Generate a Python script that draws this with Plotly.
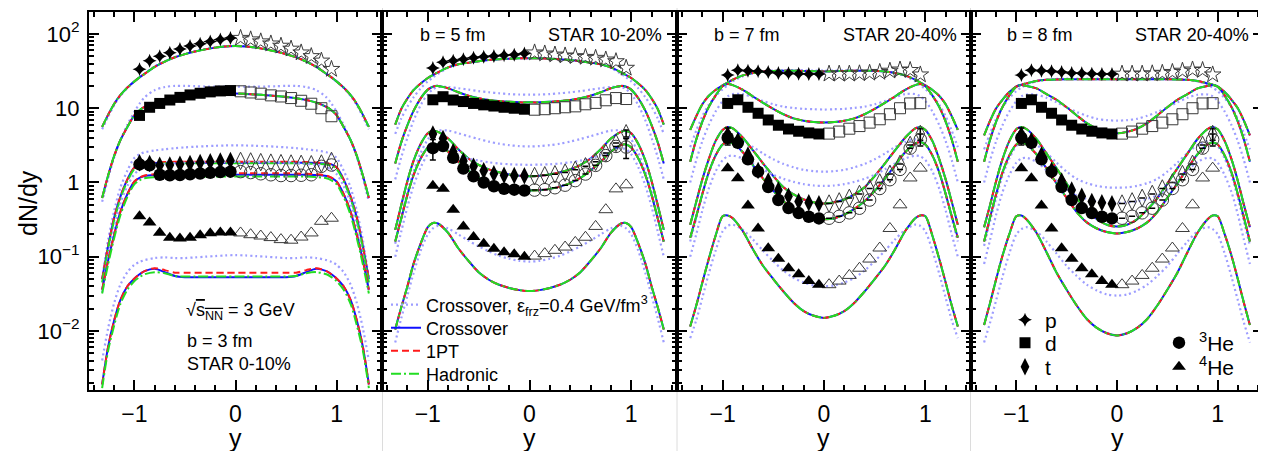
import plotly.graph_objects as go

FONT = "Liberation Sans, Arial, Helvetica, sans-serif"

# ---------------- rapidity grids ----------------
Y_CURVE = [-1.32, -1.26, -1.2, -1.14, -1.07, -1.0, -0.95, -0.9, -0.8, -0.7, -0.6, -0.5, -0.4, -0.3, -0.2, -0.1,
           0.0, 0.1, 0.2, 0.3, 0.4, 0.5, 0.6, 0.7, 0.8, 0.9, 0.95, 1.0, 1.07, 1.14, 1.2, 1.26, 1.32]
Y_NEG = [-0.95, -0.85, -0.75, -0.65, -0.55, -0.45, -0.35, -0.25, -0.15, -0.05]
Y_POS = [0.05, 0.15, 0.25, 0.35, 0.45, 0.55, 0.65, 0.75, 0.85, 0.95]

# ---------------- model curves, panel 1 (b = 3 fm) ----------------
P1_P = [5.6, 8.2, 11.5, 15, 19, 23, 26, 29, 36, 42.5, 48.5, 53.5, 58, 62, 65.5, 68, 69, 68, 65.5, 62, 58, 53.5, 48.5, 42.5, 36, 29, 26, 23, 19, 15, 11.5, 8.2, 5.6]
P1_P_FRZ = [5.2, 7.7, 11, 14.6, 18.8, 23, 26, 29.2, 36.5, 43, 49, 54, 58.5, 62.5, 66, 68.5, 69.5, 68.5, 66, 62.5, 58.5, 54, 49, 43, 36.5, 29.2, 26, 23, 18.8, 14.6, 11, 7.7, 5.2]
P1_D = [0.62, 1.25, 2.3, 3.7, 5.6, 8.1, 9.4, 10.4, 11.9, 12.9, 13.6, 14.2, 14.6, 15.0, 15.3, 15.6, 15.8, 15.6, 15.3, 15.0, 14.6, 14.2, 13.6, 12.9, 11.9, 10.4, 9.4, 8.1, 5.6, 3.7, 2.3, 1.25, 0.62]
P1_D_FRZ = [0.55, 1.15, 2.2, 3.7, 6.0, 9.0, 11.5, 14.0, 17.5, 19.3, 20, 20, 19.8, 19.6, 19.5, 19.5, 19.5, 19.5, 19.5, 19.6, 19.8, 20, 20, 19.3, 17.5, 14.0, 11.5, 9.0, 6.0, 3.7, 2.2, 1.15, 0.55]
P1_T = [0.05, 0.14, 0.34, 0.64, 1.1, 1.6, 1.75, 1.8, 1.83, 1.84, 1.85, 1.85, 1.85, 1.85, 1.85, 1.85, 1.85, 1.85, 1.85, 1.85, 1.85, 1.85, 1.85, 1.84, 1.83, 1.8, 1.75, 1.6, 1.1, 0.64, 0.34, 0.14, 0.05]
P1_T_1PT = [0.05, 0.14, 0.34, 0.64, 1.1, 1.6, 1.76, 1.82, 1.86, 1.88, 1.9, 1.9, 1.9, 1.9, 1.9, 1.9, 1.9, 1.9, 1.9, 1.9, 1.9, 1.9, 1.9, 1.88, 1.86, 1.82, 1.76, 1.6, 1.1, 0.64, 0.34, 0.14, 0.05]
P1_T_HAD = [0.045, 0.13, 0.31, 0.6, 1.04, 1.52, 1.68, 1.74, 1.78, 1.8, 1.81, 1.82, 1.82, 1.82, 1.82, 1.82, 1.82, 1.82, 1.82, 1.82, 1.82, 1.82, 1.81, 1.8, 1.78, 1.74, 1.68, 1.52, 1.04, 0.6, 0.31, 0.13, 0.045]
P1_T_FRZ = [0.05, 0.17, 0.42, 0.85, 1.45, 2.15, 2.4, 2.55, 2.7, 2.8, 2.9, 2.97, 3.03, 3.08, 3.12, 3.15, 3.16, 3.15, 3.12, 3.08, 3.03, 2.97, 2.9, 2.8, 2.7, 2.55, 2.4, 2.15, 1.45, 0.85, 0.42, 0.17, 0.05]
P1_HE3 = [0.036, 0.09, 0.2, 0.4, 0.7, 1.03, 1.15, 1.22, 1.26, 1.27, 1.27, 1.27, 1.27, 1.27, 1.27, 1.27, 1.27, 1.27, 1.27, 1.27, 1.27, 1.27, 1.27, 1.27, 1.26, 1.22, 1.15, 1.03, 0.7, 0.4, 0.2, 0.09, 0.036]
P1_HE3_1PT = [0.036, 0.09, 0.2, 0.4, 0.7, 1.03, 1.16, 1.24, 1.29, 1.31, 1.32, 1.33, 1.33, 1.33, 1.33, 1.33, 1.33, 1.33, 1.33, 1.33, 1.33, 1.33, 1.32, 1.31, 1.29, 1.24, 1.16, 1.03, 0.7, 0.4, 0.2, 0.09, 0.036]
P1_HE3_HAD = [0.032, 0.08, 0.18, 0.36, 0.64, 0.95, 1.07, 1.14, 1.18, 1.2, 1.2, 1.2, 1.2, 1.2, 1.2, 1.2, 1.2, 1.2, 1.2, 1.2, 1.2, 1.2, 1.2, 1.2, 1.18, 1.14, 1.07, 0.95, 0.64, 0.36, 0.18, 0.08, 0.032]
P1_HE3_FRZ = [0.033, 0.1, 0.25, 0.52, 0.9, 1.3, 1.48, 1.6, 1.72, 1.78, 1.82, 1.85, 1.87, 1.88, 1.89, 1.9, 1.9, 1.9, 1.89, 1.88, 1.87, 1.85, 1.82, 1.78, 1.72, 1.6, 1.48, 1.3, 0.9, 0.52, 0.25, 0.1, 0.033]
P1_HE4 = [0.0019, 0.0062, 0.014, 0.026, 0.040, 0.051, 0.058, 0.064, 0.069, 0.062, 0.055, 0.053, 0.053, 0.053, 0.053, 0.053, 0.053, 0.053, 0.053, 0.053, 0.053, 0.053, 0.055, 0.062, 0.069, 0.064, 0.058, 0.051, 0.040, 0.026, 0.014, 0.0062, 0.0019]
P1_HE4_1PT = [0.0019, 0.0062, 0.014, 0.026, 0.040, 0.051, 0.058, 0.064, 0.070, 0.066, 0.061, 0.061, 0.061, 0.061, 0.061, 0.061, 0.061, 0.061, 0.061, 0.061, 0.061, 0.061, 0.061, 0.066, 0.070, 0.064, 0.058, 0.051, 0.040, 0.026, 0.014, 0.0062, 0.0019]
P1_HE4_HAD = [0.0017, 0.0055, 0.012, 0.023, 0.036, 0.047, 0.053, 0.058, 0.062, 0.06, 0.055, 0.054, 0.054, 0.054, 0.054, 0.054, 0.054, 0.054, 0.054, 0.054, 0.054, 0.054, 0.055, 0.06, 0.062, 0.058, 0.053, 0.047, 0.036, 0.023, 0.012, 0.0055, 0.0017]
P1_HE4_FRZ = [0.004, 0.011, 0.024, 0.042, 0.062, 0.078, 0.085, 0.09, 0.096, 0.098, 0.096, 0.096, 0.098, 0.1, 0.102, 0.104, 0.105, 0.104, 0.102, 0.1, 0.098, 0.096, 0.096, 0.098, 0.096, 0.09, 0.085, 0.078, 0.062, 0.042, 0.024, 0.011, 0.004]

# ---------------- panel 2 (b = 5 fm) ----------------
P2_P = [6.0, 9.8, 13.5, 17.5, 21.5, 25.5, 28, 30.5, 35.5, 39, 41, 43, 44.7, 45.8, 46.5, 47, 47, 47, 46.5, 45.8, 44.7, 43, 41, 39, 35.5, 30.5, 28, 25.5, 21.5, 17.5, 13.5, 9.8, 6.0]
P2_P_FRZ = [4.5, 7.3, 10.5, 14, 18.5, 23, 26, 29, 35, 39, 41.5, 43.5, 45, 46, 46.8, 47.2, 47.3, 47.2, 46.8, 46, 45, 43.5, 41.5, 39, 35, 29, 26, 23, 18.5, 14, 10.5, 7.3, 4.5]
P2_D = [1.8, 3.5, 5.9, 9.2, 13.6, 17.8, 19.5, 20, 18.6, 16.4, 14.7, 13.6, 12.9, 12.5, 12.2, 12.0, 12.0, 12.0, 12.2, 12.5, 12.9, 13.6, 14.7, 16.4, 18.6, 20, 19.5, 17.8, 13.6, 9.2, 5.9, 3.5, 1.8]
P2_D_FRZ = [1.1, 2.2, 4.0, 6.8, 11.0, 15.5, 18, 19.3, 19.3, 18.6, 17.8, 17.0, 16.4, 15.9, 15.5, 15.3, 15.2, 15.3, 15.5, 15.9, 16.4, 17.0, 17.8, 18.6, 19.3, 19.3, 18, 15.5, 11.0, 6.8, 4.0, 2.2, 1.1]
P2_T = [0.23, 0.5, 1.05, 1.95, 3.3, 4.6, 4.95, 4.8, 3.9, 2.8, 2.1, 1.72, 1.5, 1.37, 1.28, 1.23, 1.21, 1.23, 1.28, 1.37, 1.5, 1.72, 2.1, 2.8, 3.9, 4.8, 4.95, 4.6, 3.3, 1.95, 1.05, 0.5, 0.23]
P2_T_FRZ = [0.15, 0.35, 0.75, 1.4, 2.5, 3.8, 4.6, 5.0, 5.0, 4.6, 4.2, 3.85, 3.55, 3.33, 3.18, 3.09, 3.06, 3.09, 3.18, 3.33, 3.55, 3.85, 4.2, 4.6, 5.0, 5.0, 4.6, 3.8, 2.5, 1.4, 0.75, 0.35, 0.15]
P2_HE3 = [0.16, 0.33, 0.68, 1.25, 2.1, 2.95, 3.25, 3.2, 2.6, 1.9, 1.45, 1.15, 0.98, 0.88, 0.82, 0.79, 0.78, 0.79, 0.82, 0.88, 0.98, 1.15, 1.45, 1.9, 2.6, 3.2, 3.25, 2.95, 2.1, 1.25, 0.68, 0.33, 0.16]
P2_HE3_FRZ = [0.1, 0.22, 0.47, 0.9, 1.6, 2.4, 2.8, 2.9, 2.7, 2.35, 2.1, 1.97, 1.87, 1.8, 1.76, 1.74, 1.73, 1.74, 1.76, 1.8, 1.87, 1.97, 2.1, 2.35, 2.7, 2.9, 2.8, 2.4, 1.6, 0.9, 0.47, 0.22, 0.1]
P2_HE4 = [0.0105, 0.021, 0.04, 0.08, 0.15, 0.25, 0.285, 0.28, 0.21, 0.13, 0.088, 0.062, 0.049, 0.042, 0.038, 0.0355, 0.0345, 0.0355, 0.038, 0.042, 0.049, 0.062, 0.088, 0.13, 0.21, 0.28, 0.285, 0.25, 0.15, 0.08, 0.04, 0.021, 0.0105]
P2_HE4_FRZ = [0.007, 0.015, 0.03, 0.06, 0.12, 0.2, 0.24, 0.26, 0.24, 0.2, 0.165, 0.138, 0.118, 0.103, 0.094, 0.088, 0.086, 0.088, 0.094, 0.103, 0.118, 0.138, 0.165, 0.2, 0.24, 0.26, 0.24, 0.2, 0.12, 0.06, 0.03, 0.015, 0.007]

# ---------------- panel 3 (b = 7 fm) ----------------
P3_P = [5.1, 7.8, 11.3, 14.5, 17.6, 20.3, 22.2, 24.2, 27.7, 29.8, 31.3, 31.8, 32, 32, 31.8, 31.5, 31.3, 31.5, 31.8, 32, 32, 31.8, 31.3, 29.8, 27.7, 24.2, 22.2, 20.3, 17.6, 14.5, 11.3, 7.8, 5.1]
P3_P_FRZ = [3.0, 5.0, 7.8, 11, 14.5, 18, 20.5, 23, 27, 29.8, 31.5, 32.2, 32.5, 32.5, 32.3, 32.1, 32, 32.1, 32.3, 32.5, 32.5, 32.2, 31.5, 29.8, 27, 23, 20.5, 18, 14.5, 11, 7.8, 5.0, 3.0]
P3_D = [1.9, 3.8, 6.6, 10.2, 14.8, 19.8, 21.2, 20.5, 17.7, 14.4, 11.8, 9.8, 8.3, 7.3, 6.8, 6.5, 6.4, 6.5, 6.8, 7.3, 8.3, 9.8, 11.8, 14.4, 17.7, 20.5, 21.2, 19.8, 14.8, 10.2, 6.6, 3.8, 1.9]
P3_D_FRZ = [1.0, 2.0, 3.6, 5.8, 9.0, 12.5, 14.5, 15.5, 15.5, 14, 12.5, 11.3, 10.5, 10.1, 9.8, 9.7, 9.6, 9.7, 9.8, 10.1, 10.5, 11.3, 12.5, 14, 15.5, 15.5, 14.5, 12.5, 9.0, 5.8, 3.6, 2.0, 1.0]
P3_T = [0.27, 0.55, 1.1, 2.0, 3.6, 5.1, 5.6, 5.35, 4.0, 2.7, 1.8, 1.22, 0.86, 0.69, 0.59, 0.54, 0.52, 0.54, 0.59, 0.69, 0.86, 1.22, 1.8, 2.7, 4.0, 5.35, 5.6, 5.1, 3.6, 2.0, 1.1, 0.55, 0.27]
P3_T_FRZ = [0.16, 0.33, 0.7, 1.3, 2.3, 3.3, 3.7, 3.8, 3.5, 3.0, 2.45, 2.05, 1.78, 1.6, 1.48, 1.42, 1.4, 1.42, 1.48, 1.6, 1.78, 2.05, 2.45, 3.0, 3.5, 3.8, 3.7, 3.3, 2.3, 1.3, 0.7, 0.33, 0.16]
P3_HE3 = [0.18, 0.35, 0.7, 1.33, 2.3, 3.25, 3.5, 3.35, 2.55, 1.7, 1.12, 0.77, 0.56, 0.44, 0.37, 0.33, 0.32, 0.33, 0.37, 0.44, 0.56, 0.77, 1.12, 1.7, 2.55, 3.35, 3.5, 3.25, 2.3, 1.33, 0.7, 0.35, 0.18]
P3_HE3_FRZ = [0.1, 0.2, 0.42, 0.8, 1.4, 2.0, 2.25, 2.3, 2.1, 1.8, 1.5, 1.27, 1.12, 1.02, 0.95, 0.91, 0.9, 0.91, 0.95, 1.02, 1.12, 1.27, 1.5, 1.8, 2.1, 2.3, 2.25, 2.0, 1.4, 0.8, 0.42, 0.2, 0.1]
P3_HE4 = [0.0115, 0.022, 0.045, 0.09, 0.19, 0.35, 0.36, 0.33, 0.22, 0.125, 0.075, 0.05, 0.034, 0.024, 0.0185, 0.016, 0.015, 0.016, 0.0185, 0.024, 0.034, 0.05, 0.075, 0.125, 0.22, 0.33, 0.36, 0.35, 0.19, 0.09, 0.045, 0.022, 0.0115]
P3_HE4_FRZ = [0.008, 0.014, 0.028, 0.057, 0.12, 0.22, 0.26, 0.27, 0.23, 0.17, 0.12, 0.087, 0.065, 0.052, 0.045, 0.041, 0.04, 0.041, 0.045, 0.052, 0.065, 0.087, 0.12, 0.17, 0.23, 0.27, 0.26, 0.22, 0.12, 0.057, 0.028, 0.014, 0.008]

# ---------------- panel 4 (b = 8 fm) ----------------
P4_P = [4.3, 6.8, 10, 12.9, 16.5, 19.6, 20.8, 21.6, 23.3, 24.1, 24.4, 24.5, 24.5, 24.5, 24.5, 24.5, 24.5, 24.5, 24.5, 24.5, 24.5, 24.5, 24.4, 24.1, 23.3, 21.6, 20.8, 19.6, 16.5, 12.9, 10, 6.8, 4.3]
P4_P_FRZ = [2.8, 4.6, 7.2, 10.2, 13.6, 17, 19, 20.7, 23, 24.2, 24.8, 25, 25, 25, 25, 25, 25, 25, 25, 25, 25, 25, 24.8, 24.2, 23, 20.7, 19, 17, 13.6, 10.2, 7.2, 4.6, 2.8]
P4_D = [1.9, 3.8, 6.6, 10.2, 14.8, 19.5, 20.5, 20, 18.5, 15.5, 13, 10.3, 8.0, 6.3, 5.3, 4.8, 4.6, 4.8, 5.3, 6.3, 8.0, 10.3, 13, 15.5, 18.5, 20, 20.5, 19.5, 14.8, 10.2, 6.6, 3.8, 1.9]
P4_D_FRZ = [1.0, 2.0, 3.6, 5.8, 9.0, 12.5, 14.5, 15.3, 15.2, 13.8, 12, 10.3, 8.9, 7.9, 7.2, 6.9, 6.8, 6.9, 7.2, 7.9, 8.9, 10.3, 12, 13.8, 15.2, 15.3, 14.5, 12.5, 9.0, 5.8, 3.6, 2.0, 1.0]
P4_T = [0.25, 0.5, 1.05, 2.0, 3.6, 5.2, 5.6, 5.25, 3.85, 2.45, 1.55, 0.97, 0.61, 0.43, 0.32, 0.27, 0.255, 0.27, 0.32, 0.43, 0.61, 0.97, 1.55, 2.45, 3.85, 5.25, 5.6, 5.2, 3.6, 2.0, 1.05, 0.5, 0.25]
P4_T_FRZ = [0.14, 0.3, 0.62, 1.2, 2.1, 3.1, 3.5, 3.6, 3.2, 2.5, 1.85, 1.4, 1.12, 0.98, 0.9, 0.86, 0.85, 0.86, 0.9, 0.98, 1.12, 1.4, 1.85, 2.5, 3.2, 3.6, 3.5, 3.1, 2.1, 1.2, 0.62, 0.3, 0.14]
P4_HE3 = [0.16, 0.34, 0.7, 1.33, 2.3, 3.25, 3.45, 3.25, 2.4, 1.55, 0.97, 0.62, 0.4, 0.29, 0.24, 0.215, 0.206, 0.215, 0.24, 0.29, 0.4, 0.62, 0.97, 1.55, 2.4, 3.25, 3.45, 3.25, 2.3, 1.33, 0.7, 0.34, 0.16]
P4_HE3_FRZ = [0.08, 0.17, 0.37, 0.72, 1.25, 1.85, 2.1, 2.15, 1.9, 1.45, 1.05, 0.8, 0.67, 0.6, 0.56, 0.54, 0.53, 0.54, 0.56, 0.6, 0.67, 0.8, 1.05, 1.45, 1.9, 2.15, 2.1, 1.85, 1.25, 0.72, 0.37, 0.17, 0.08]
P4_HE4 = [0.012, 0.024, 0.05, 0.1, 0.2, 0.35, 0.36, 0.32, 0.21, 0.115, 0.061, 0.036, 0.022, 0.0145, 0.011, 0.0093, 0.0087, 0.0093, 0.011, 0.0145, 0.022, 0.036, 0.061, 0.115, 0.21, 0.32, 0.36, 0.35, 0.2, 0.1, 0.05, 0.024, 0.012]
P4_HE4_FRZ = [0.007, 0.013, 0.026, 0.052, 0.11, 0.2, 0.235, 0.25, 0.22, 0.16, 0.11, 0.075, 0.055, 0.042, 0.035, 0.031, 0.03, 0.031, 0.035, 0.042, 0.055, 0.075, 0.11, 0.16, 0.22, 0.25, 0.235, 0.2, 0.11, 0.052, 0.026, 0.013, 0.007]

# ---------------- STAR data: filled y<0, open (reflected) y>0 ----------------
S010_P_NEG = [33.6, 43.5, 50, 56, 63, 69, 74, 79, 84, 88]
S010_P_POS = [88, 84, 79, 74, 69, 63, 56, 50, 43.5, 33.6]
S010_D_NEG = [8.0, 10.3, 11.6, 12.9, 14.0, 15.1, 15.9, 16.6, 17.1, 17.3]
S010_D_POS = [16.9, 16.3, 15.7, 14.9, 14.4, 13.7, 12.6, 11.5, 10.0, 7.8]
S010_T_NEG = [1.85, 1.8, 1.7, 1.72, 1.76, 1.8, 1.86, 1.9, 1.95, 1.98]
S010_T_POS = [1.95, 1.92, 1.88, 1.85, 1.82, 1.8, 1.78, 1.76, 1.8, 1.95]
S010_HE3_NEG = [1.75, 1.7, 1.27, 1.25, 1.26, 1.29, 1.32, 1.35, 1.38, 1.40]
S010_HE3_POS = [1.40, 1.36, 1.31, 1.27, 1.24, 1.24, 1.25, 1.27, 1.65, 1.72]
S010_HE4_NEG = [0.35, 0.29, 0.21, 0.18, 0.176, 0.18, 0.194, 0.207, 0.212, 0.212]
S010_HE4_POS = [0.209, 0.198, 0.19, 0.181, 0.17, 0.167, 0.184, 0.209, 0.30, 0.33]

S1020_P_NEG = [34.8, 41.5, 43.7, 45.6, 47.9, 49.5, 50.6, 51.6, 52.6, 54.5]
S1020_P_POS = [56, 54.2, 52.5, 51, 49.9, 48.8, 47.4, 45, 42.7, 34.8]
S1020_D_NEG = [13.0, 14.3, 12.9, 12.3, 11.6, 11.1, 10.7, 10.3, 10.0, 9.7]
S1020_D_POS = [9.55, 9.7, 10.0, 10.3, 10.6, 11.3, 11.8, 12.8, 13.7, 13.3]
S1020_T_NEG = [4.5, 3.9, 2.6, 1.95, 1.65, 1.44, 1.31, 1.25, 1.24, 1.23]
S1020_T_POS = [1.22, 1.25, 1.29, 1.36, 1.48, 1.65, 1.9, 2.5, 3.4, 4.6]
S1020_HE3_NEG = [2.9, 3.1, 2.15, 1.54, 1.21, 1.0, 0.89, 0.82, 0.8, 0.78]
S1020_HE3_POS = [0.79, 0.8, 0.85, 0.92, 1.06, 1.3, 1.7, 2.3, 3.06, 3.0]
S1020_HE4_NEG = [0.9, 0.82, 0.43, 0.255, 0.185, 0.15, 0.128, 0.115, 0.108, 0.1]
S1020_HE4_POS = [0.102, 0.11, 0.122, 0.135, 0.156, 0.183, 0.256, 0.43, 0.82, 0.93]
S1020_T_NEG_ERR = [0.4, 0, 0, 0, 0, 0, 0, 0, 0, 0]
S1020_T_POS_ERR = [0, 0, 0, 0, 0, 0, 0, 0, 0, 0.5]
S1020_HE3_NEG_ERR = [0.9, 0, 0, 0, 0, 0, 0, 0, 0, 0]
S1020_HE3_POS_ERR = [0, 0, 0, 0, 0, 0, 0, 0, 0, 0.9]

S2040_P_NEG = [28, 32.5, 32, 31.5, 30.8, 29.8, 29.5, 29.2, 29, 29]
S2040_P_POS = [29, 29, 29, 29.3, 29.8, 30.6, 31.8, 33, 32.5, 28.3]
S2040_D_NEG = [11.6, 13.0, 10.3, 8.55, 6.95, 5.9, 5.25, 4.9, 4.65, 4.5]
S2040_D_POS = [4.55, 4.85, 5.3, 5.75, 6.4, 7.1, 8.3, 10.0, 11.6, 11.7]
S2040_T_NEG = [4.4, 3.65, 2.35, 1.45, 1.05, 0.79, 0.65, 0.555, 0.535, 0.515]
S2040_T_POS = [0.52, 0.556, 0.62, 0.7, 0.83, 1.0, 1.3, 1.78, 3.2, 4.5]
S2040_HE3_NEG = [4.0, 3.42, 2.05, 1.4, 0.87, 0.58, 0.452, 0.387, 0.345, 0.328]
S2040_HE3_POS = [0.33, 0.35, 0.39, 0.45, 0.58, 0.83, 1.09, 1.5, 2.9, 3.8]
S2040_HE4_NEG = [1.56, 1.14, 0.49, 0.24, 0.13, 0.094, 0.07, 0.058, 0.047, 0.042]
S2040_HE4_POS = [0.042, 0.047, 0.056, 0.07, 0.093, 0.131, 0.24, 0.5, 1.15, 1.56]
S2040_T_NEG_ERR = [1.0, 0, 0, 0, 0, 0, 0, 0, 0, 0]
S2040_T_POS_ERR = [0, 0, 0, 0, 0, 0, 0, 0, 0, 0.8]
S2040_HE3_NEG_ERR = [0.8, 0, 0, 0, 0, 0, 0, 0, 0, 0]
S2040_HE3_POS_ERR = [0, 0, 0, 0, 0, 0, 0, 0, 0, 0.7]

NO_ERR = [0] * 10

# ---------------- assemble ----------------
SPECIES = ["p", "d", "t", "he3", "he4"]
CURVES = [
    {"p": (P1_P_FRZ, P1_P, P1_P, P1_P), "d": (P1_D_FRZ, P1_D, P1_D, P1_D),
     "t": (P1_T_FRZ, P1_T, P1_T_1PT, P1_T_HAD), "he3": (P1_HE3_FRZ, P1_HE3, P1_HE3_1PT, P1_HE3_HAD),
     "he4": (P1_HE4_FRZ, P1_HE4, P1_HE4_1PT, P1_HE4_HAD)},
    {"p": (P2_P_FRZ, P2_P, P2_P, P2_P), "d": (P2_D_FRZ, P2_D, P2_D, P2_D), "t": (P2_T_FRZ, P2_T, P2_T, P2_T),
     "he3": (P2_HE3_FRZ, P2_HE3, P2_HE3, P2_HE3), "he4": (P2_HE4_FRZ, P2_HE4, P2_HE4, P2_HE4)},
    {"p": (P3_P_FRZ, P3_P, P3_P, P3_P), "d": (P3_D_FRZ, P3_D, P3_D, P3_D), "t": (P3_T_FRZ, P3_T, P3_T, P3_T),
     "he3": (P3_HE3_FRZ, P3_HE3, P3_HE3, P3_HE3), "he4": (P3_HE4_FRZ, P3_HE4, P3_HE4, P3_HE4)},
    {"p": (P4_P_FRZ, P4_P, P4_P, P4_P), "d": (P4_D_FRZ, P4_D, P4_D, P4_D), "t": (P4_T_FRZ, P4_T, P4_T, P4_T),
     "he3": (P4_HE3_FRZ, P4_HE3, P4_HE3, P4_HE3), "he4": (P4_HE4_FRZ, P4_HE4, P4_HE4, P4_HE4)},
]
STAR_010 = {"p": (S010_P_NEG, S010_P_POS, NO_ERR, NO_ERR), "d": (S010_D_NEG, S010_D_POS, NO_ERR, NO_ERR),
            "t": (S010_T_NEG, S010_T_POS, NO_ERR, NO_ERR), "he3": (S010_HE3_NEG, S010_HE3_POS, NO_ERR, NO_ERR),
            "he4": (S010_HE4_NEG, S010_HE4_POS, NO_ERR, NO_ERR)}
STAR_1020 = {"p": (S1020_P_NEG, S1020_P_POS, NO_ERR, NO_ERR), "d": (S1020_D_NEG, S1020_D_POS, NO_ERR, NO_ERR),
             "t": (S1020_T_NEG, S1020_T_POS, S1020_T_NEG_ERR, S1020_T_POS_ERR),
             "he3": (S1020_HE3_NEG, S1020_HE3_POS, S1020_HE3_NEG_ERR, S1020_HE3_POS_ERR),
             "he4": (S1020_HE4_NEG, S1020_HE4_POS, NO_ERR, NO_ERR)}
STAR_2040 = {"p": (S2040_P_NEG, S2040_P_POS, NO_ERR, NO_ERR), "d": (S2040_D_NEG, S2040_D_POS, NO_ERR, NO_ERR),
             "t": (S2040_T_NEG, S2040_T_POS, S2040_T_NEG_ERR, S2040_T_POS_ERR),
             "he3": (S2040_HE3_NEG, S2040_HE3_POS, S2040_HE3_NEG_ERR, S2040_HE3_POS_ERR),
             "he4": (S2040_HE4_NEG, S2040_HE4_POS, NO_ERR, NO_ERR)}
DATA = [STAR_010, STAR_1020, STAR_2040, STAR_2040]

MODEL_NAMES = ["Crossover, ε<sub>frz</sub>=0.4 GeV/fm<sup>3</sup>", "Crossover", "1PT", "Hadronic"]
MODEL_LINES = [dict(color="#9d9dff", width=2.2, dash="2px,3px"),
               dict(color="#1010ff", width=2, dash="solid"),
               dict(color="#ff1a1a", width=2, dash="7px,4px"),
               dict(color="#22dd22", width=2, dash="10px,3px,2px,3px")]
MODEL_LEGENDS = ["legend", "legend2", "legend3", "legend4"]

MARK = {"p": ("star-diamond", "star-open", 10, 12.5),
        "d": ("square", "square-open", 11, 11),
        "t": ("diamond-tall", "diamond-tall-open", 12.5, 12.5),
        "he3": ("circle", "circle-open", 12.5, 12.5),
        "he4": ("triangle-up", "triangle-up-open", 12, 12)}
MARK_NAMES = {"p": "p", "d": "d", "t": "t", "he3": "<sup>3</sup>He", "he4": "<sup>4</sup>He"}
MARK_LEGENDS = {"p": "legend5", "d": "legend6", "t": "legend7", "he3": "legend8", "he4": "legend9"}

fig = go.Figure()
for i in range(4):
    xa = "x" if i == 0 else f"x{i+1}"
    ya = "y" if i == 0 else f"y{i+1}"
    for sp in SPECIES:
        for m in range(4):
            fig.add_trace(go.Scatter(
                x=Y_CURVE, y=CURVES[i][sp][m], mode="lines", line=dict(MODEL_LINES[m], shape="spline", smoothing=0.8),
                xaxis=xa, yaxis=ya, name=MODEL_NAMES[m], legend=MODEL_LEGENDS[m],
                showlegend=(i == 0 and sp == "p"), hoverinfo="skip"))
    for sp in SPECIES:
        neg, pos, eneg, epos = DATA[i][sp]
        fsym, osym, fsize, osize = MARK[sp]
        fig.add_trace(go.Scatter(
            x=Y_POS, y=pos, mode="markers", xaxis=xa, yaxis=ya, showlegend=False,
            marker=dict(symbol=osym, size=osize, color="#3a3a3a", line=dict(width=1, color="#3a3a3a")),
            error_y=dict(type="data", array=epos, color="black", thickness=1.5, width=3,
                         visible=any(v > 0 for v in epos))))
        fig.add_trace(go.Scatter(
            x=Y_NEG, y=neg, mode="markers", xaxis=xa, yaxis=ya, name=MARK_NAMES[sp], legend=MARK_LEGENDS[sp],
            showlegend=(i == 0),
            marker=dict(symbol=fsym, size=fsize, color="black", line=dict(width=0)),
            error_y=dict(type="data", array=eneg, color="black", thickness=1.5, width=3,
                         visible=any(v > 0 for v in eneg))))

# ---------------- layout ----------------
# The page body adds an 8 px offset, so the figure is 8 px smaller and margins are shifted.
OFF = 8
W, H = 1266 - OFF, 451 - OFF
L, R, T, B = 89 - OFF, 3, 12 - OFF, 61
PW, PH = W - L - R, H - T - B
EDGES = [89, 382, 677, 971, 1263]          # panel edges in window pixels
def px_x(v):                                 # window pixel -> paper x
    return (v - OFF - L) / PW
def px_y(v):                                 # window pixel -> paper y
    return (H - B - (v - OFF)) / PH

Y_MINOR = [k * 10.0 ** e for e in range(-3, 3) for k in range(2, 10) if k * 10.0 ** e < 190]
X_MINOR = [-1.4, -1.2, -0.8, -0.6, -0.4, -0.2, 0.2, 0.4, 0.6, 0.8, 1.2, 1.4]

layout = dict(width=W, height=H, margin=dict(l=L, r=R, t=T, b=B, autoexpand=False),
              paper_bgcolor="white", plot_bgcolor="white", font=dict(family=FONT, color="black"))
for i in range(4):
    xk = "xaxis" if i == 0 else f"xaxis{i+1}"
    yk = "yaxis" if i == 0 else f"yaxis{i+1}"
    layout[xk] = dict(
        domain=[px_x(EDGES[i]), px_x(EDGES[i + 1])], anchor="y" if i == 0 else f"y{i+1}",
        range=[-1.45, 1.45], showline=True, linecolor="black", linewidth=2, mirror="allticks",
        ticks="inside", ticklen=10, tickwidth=1.5, tickcolor="black", automargin=False,
        tickvals=[-1, 0, 1], ticktext=["\u22121", "0", "1"], tickfont=dict(size=23, family=FONT),
        ticklabelstandoff=2,
        minor=dict(tickvals=X_MINOR, ticks="inside", ticklen=5, tickwidth=1.5, tickcolor="black", showgrid=False),
        showgrid=False, zeroline=False)
    layout[yk] = dict(
        domain=[0, 1], anchor="x" if i == 0 else f"x{i+1}", type="log", range=[-2.795, 2.296],
        showline=True, linecolor="black", linewidth=2, mirror="allticks", automargin=False,
        ticks="inside", ticklen=10, tickwidth=1.5, tickcolor="black",
        tickvals=[0.01, 0.1, 1, 10, 100],
        ticktext=["10<sup>\u22122</sup>", "10<sup>\u22121</sup>", "1", "10", "10<sup>2</sup>"],
        tickfont=dict(size=22, family=FONT), showticklabels=(i == 0), ticklabelstandoff=3,
        minor=dict(tickvals=Y_MINOR, ticks="inside", ticklen=5, tickwidth=1.5, tickcolor="black", showgrid=False),
        showgrid=False, zeroline=False)

def leg(xpx, ypx, size):
    return dict(x=px_x(xpx), y=px_y(ypx), xanchor="left", yanchor="middle", bgcolor="rgba(0,0,0,0)",
                borderwidth=0, font=dict(size=size, family=FONT), itemwidth=30, tracegroupgap=0)

LEG_LINE_X = 386
layout["legend"] = leg(LEG_LINE_X, 305, 18)
layout["legend2"] = leg(LEG_LINE_X, 328, 18)
layout["legend3"] = leg(LEG_LINE_X, 351, 18)
layout["legend4"] = leg(LEG_LINE_X, 374, 18)
layout["legend5"] = leg(1005, 320, 21)
layout["legend6"] = leg(1005, 343, 21)
layout["legend7"] = leg(1005, 367, 21)
layout["legend8"] = leg(1159, 343, 21)
layout["legend9"] = leg(1159, 367, 21)

def note(text, xpx, ypx, anchor="left", size=18):
    return dict(text=text, x=px_x(xpx), y=px_y(ypx), xref="paper", yref="paper", xanchor=anchor,
                yanchor="middle", showarrow=False, font=dict(size=size, family=FONT, color="black"))

ann = [
    note("\u221a<span style='text-decoration:overline'>s<sub>NN</sub></span> = 3 GeV", 184, 311),
    note("b = 3 fm", 185, 341),
    note("STAR 0-10%", 185, 364),
    note("b = 5 fm", 418, 35),
    note("STAR 10-20%", 664, 35, "right"),
    note("b = 7 fm", 712, 35),
    note("STAR 20-40%", 959, 35, "right"),
    note("b = 8 fm", 1005, 35),
    note("STAR 20-40%", 1251, 35, "right"),
    dict(text="dN/dy", x=px_x(28), y=px_y(203), xref="paper", yref="paper", textangle=-90,
         showarrow=False, xanchor="center", yanchor="middle", font=dict(size=25, family=FONT, color="black")),
]
for xc in (235, 529, 823, 1117):
    ann.append(note("y", xc, 438, "center", 25))
layout["annotations"] = ann
layout["shapes"] = [dict(type="line", xref="paper", yref="paper", x0=px_x(xv), x1=px_x(xv),
                         y0=px_y(451), y1=px_y(OFF), line=dict(color="#dcdcdc", width=1), layer="below")
                    for xv in (382.5, 677, 970.5)]

fig.update_layout(layout)
fig.write_html("out.html")
